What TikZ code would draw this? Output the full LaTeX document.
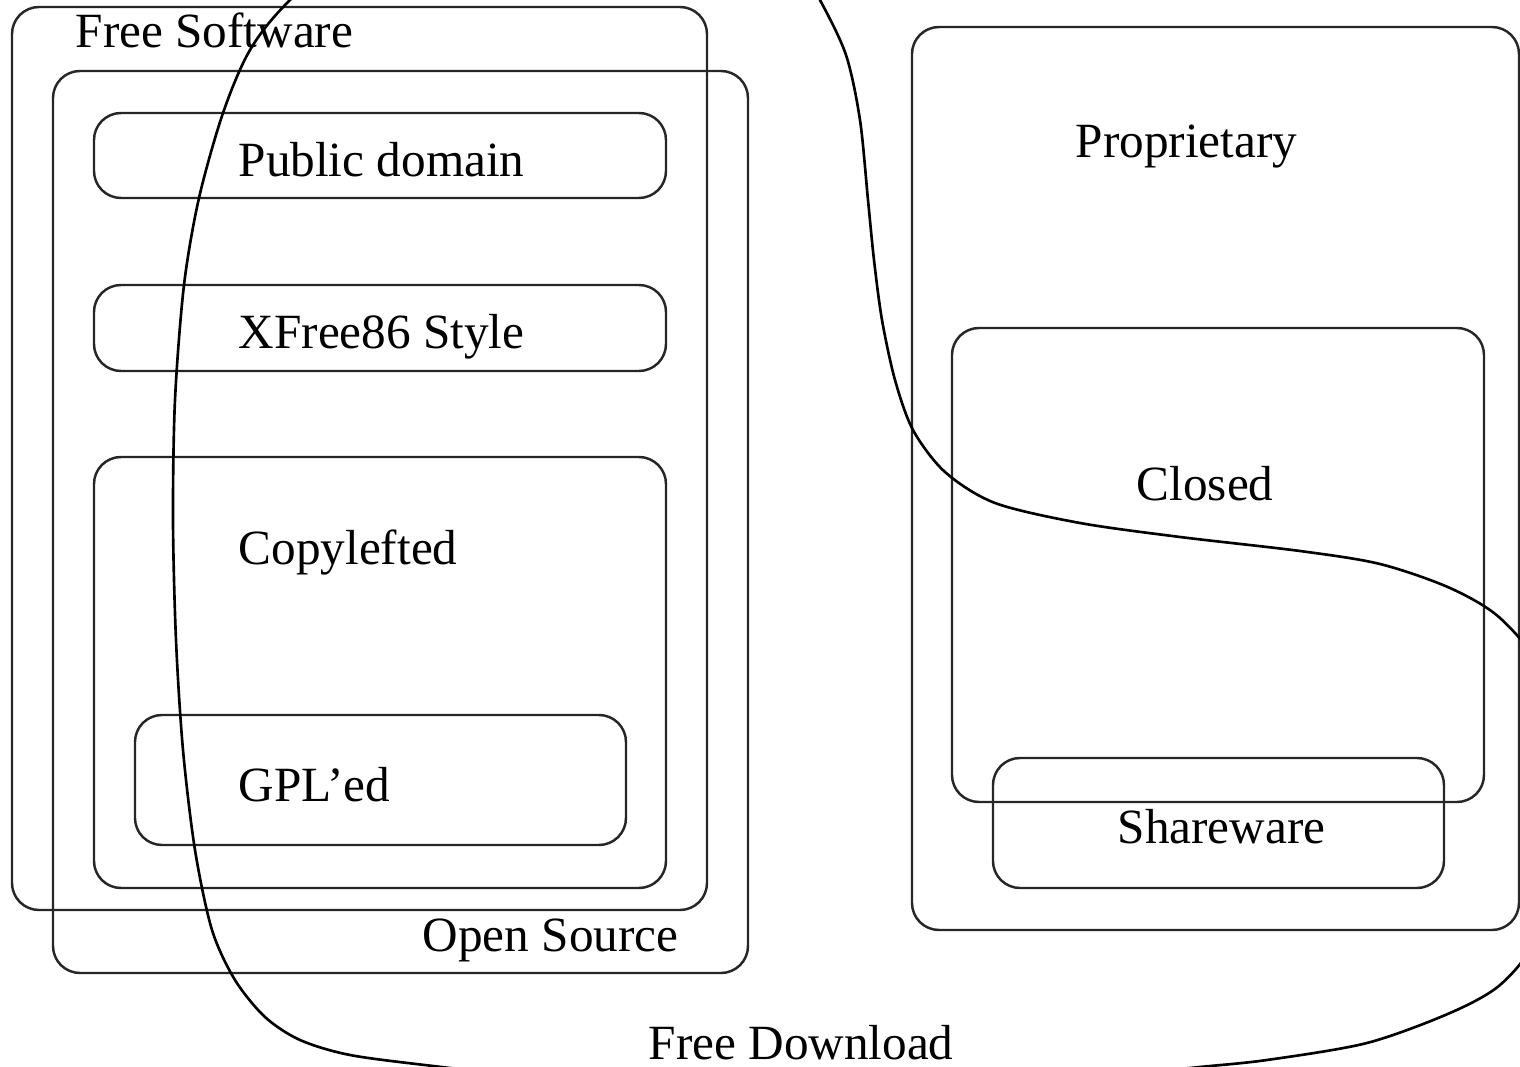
\documentclass[tikz,border=0pt]{standalone}
\usepackage{fontspec}
\setmainfont{Liberation Serif}
\begin{document}
\begin{tikzpicture}[x=0.01cm,y=-0.01cm,
  region/.style={draw=black!85, line width=0.7pt, rounded corners=0.27cm},
  lbl/.style={anchor=base west, inner sep=0pt, font=\fontsize{14}{16}\selectfont},
  border/.style={draw=black, line width=0.75pt}]
\useasboundingbox (0,0) rectangle (1520,1067);

% licence families on the left
\draw[region] (12,7) rectangle (707,910);     % free software
\draw[region] (53,71) rectangle (748,973);    % open source
\draw[region] (94,113) rectangle (666,198);   % public domain
\draw[region] (94,285) rectangle (666,371);   % xfree86 style
\draw[region] (94,457) rectangle (666,888);   % copylefted
\draw[region] (135,715) rectangle (626,845);  % gpl

% proprietary side
\draw[region] (912,27) rectangle (1519,930);  % proprietary
\draw[region] (952,328) rectangle (1484,802); % closed
\draw[region] (993,758) rectangle (1444,888); % shareware

% labels
\node[lbl] (freesw)   at (75,48)    {Free Software};
\node[lbl] (pubdom)   at (238,177)  {Public domain};
\node[lbl] (xfree)    at (238,349)  {XFree86 Style};
\node[lbl] (copyleft) at (238,565)  {Copylefted};
\node[lbl] (gpl)      at (238,802)  {GPL’ed};
\node[lbl] (opensrc)  at (422,952)  {Open Source};
\node[lbl] (prop)     at (1075,158) {Proprietary};
\node[lbl] (closed)   at (1136,501) {Closed};
\node[lbl] (share)    at (1117,844) {Shareware};
\node[lbl] (freedl)   at (648,1060) {Free Download};

% the free download region, a loop that runs past the page edges
\begin{scope}
\clip (0,0) rectangle (1520,1067);
\draw[border] plot[smooth cycle] coordinates {
  (560,-150) (390,-90) (290,0) (250,50) (223,113) (199,198) (184,285)
  (175,400) (173,520) (176,640) (183,750) (195,850) (212,930) (235,980)
  (265,1017) (300,1040) (350,1055) (433,1066) (560,1080) (700,1088)
  (850,1090) (1000,1085) (1120,1075) (1200,1067) (1267,1060)
  (1367,1043) (1450,1013) (1500,985) (1535,940) (1553,860) (1555,760)
  (1540,670) (1500,618) (1450,588) (1380,564) (1300,551) (1180,537)
  (1080,523) (995,503) (945,472) (913,430) (895,380) (882,320)
  (874,260) (868,200) (860,120) (846,55) (820,0) (790,-50) (720,-115)};
\end{scope}
\end{tikzpicture}
\end{document}
